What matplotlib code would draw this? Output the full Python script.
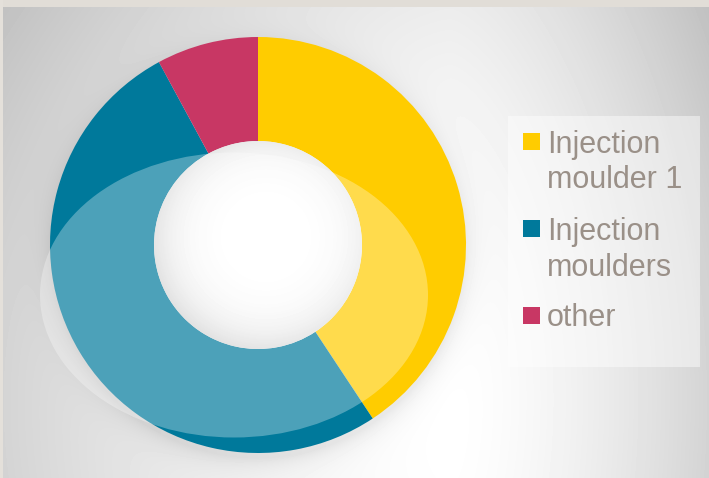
import matplotlib.pyplot as plt
import numpy as np
from matplotlib.patches import Rectangle, Ellipse, Circle

# donut data
labels = ["Injection\nmoulder 1", "Injection\nmoulders", "other"]
shares = [40.7, 51.4, 7.9]
colors = ["#ffcc00", "#00799b", "#c83764"]

W, H = 709, 478
fig = plt.figure(figsize=(W / 100, H / 100), dpi=100)
ax = fig.add_axes([0, 0, 1, 1])

# background: grey radial-ish gradient + soft shadow under the donut
xx, yy = np.meshgrid(np.arange(W) + 0.5, np.arange(H) + 0.5)
u = np.where(xx < 450, (xx - 450) / 450, (xx - 450) / 259)
w = (yy - 400) / 380
bg = 1 - 0.17 * np.abs(u) ** 1.5 - 0.07 * w ** 2
d = np.hypot(xx - 258, yy - 252)
bg -= 0.08 * np.exp(-np.clip(d - 206, 0, None) / 11) * (d > 200)
ax.imshow(bg, cmap="gray", vmin=0, vmax=1, extent=(0, W, H, 0),
          interpolation="bilinear", zorder=0)

# frame strips
ax.add_patch(Rectangle((0, 0), W, 7, color="#e1ddd7", lw=0, zorder=1))
ax.add_patch(Rectangle((0, 0), 3, H, color="#e4e0da", lw=0, zorder=1))

cx, cy, R, ring = 258, 245, 208, 104
ax.pie(shares, colors=colors, startangle=-90, counterclock=True,
       center=(cx, cy), radius=R,
       wedgeprops=dict(width=ring, linewidth=0))

# hole with a little inner shading
hd = np.hypot(xx - (cx + 8), yy - (cy - 8)) / (R - ring)
hole = 1 - 0.11 * np.clip(hd, 0, 1.2) ** 4
im = ax.imshow(hole, cmap="gray", vmin=0, vmax=1, extent=(0, W, H, 0),
               interpolation="bilinear", zorder=3)
im.set_clip_path(Circle((cx, cy), R - ring, transform=ax.transData))

# glossy overlay
ax.add_patch(Ellipse((234, 295), 388, 285, color="white", alpha=0.3,
                     lw=0, zorder=4))

# legend
ax.add_patch(Rectangle((508, 116), 192, 251, color="white", alpha=0.45,
                       lw=0, zorder=4))
y0 = 141.5
for lab, col in zip(labels, colors):
    ax.add_patch(Rectangle((523, y0 - 8.5), 17, 17, color=col, lw=0, zorder=5))
    for i, line in enumerate(lab.split("\n")):
        ax.text(547, y0 + 11 + 36 * i, line, fontsize=22, color="#9a9088",
                family="Liberation Sans", va="baseline", ha="left", zorder=5)
    y0 += 87

ax.set_xlim(0, W)
ax.set_ylim(H, 0)
ax.set_aspect("auto")
ax.axis("off")

fig.savefig("out.png", dpi=100)
